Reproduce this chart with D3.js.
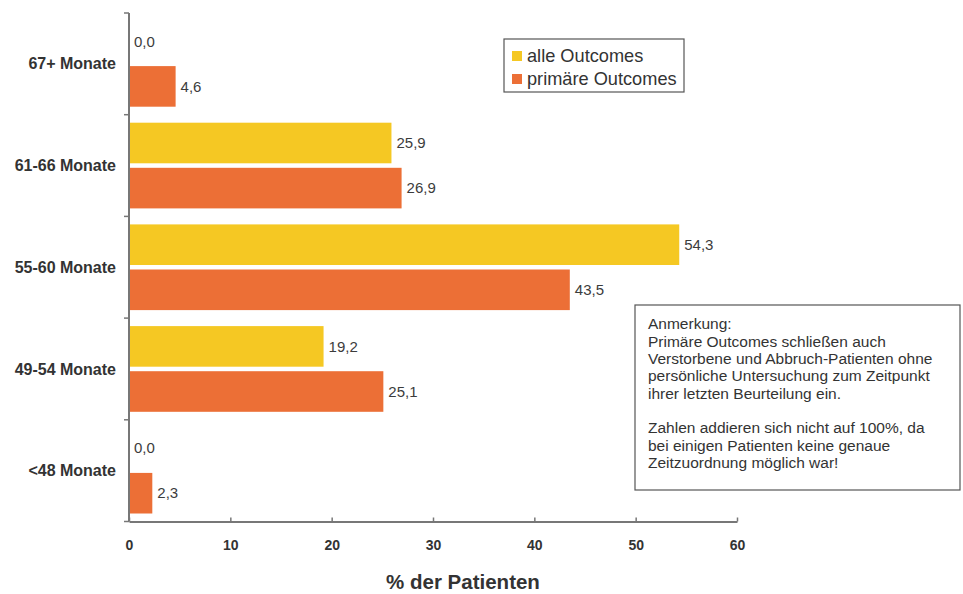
<!DOCTYPE html>
<html>
<head>
<meta charset="utf-8">
<script src="https://cdn.jsdelivr.net/npm/d3@7"></script>
<style>
  html, body { margin: 0; padding: 0; background: #fff; }
  svg { display: block; font-family: "Liberation Sans", Arial, sans-serif; }
</style>
</head>
<body>
<svg id="chart" width="963" height="594"></svg>
<script>
// Categories, top to bottom
const categories = ["67+ Monate", "61-66 Monate", "55-60 Monate", "49-54 Monate", "<48 Monate"];
// Series values (% der Patienten)
const alleOutcomes = [0.0, 25.9, 54.3, 19.2, 0.0];
const primaereOutcomes = [4.6, 26.9, 43.5, 25.1, 2.3];
const seriesNames = ["alle Outcomes", "primäre Outcomes"];
const seriesColors = ["#F5C823", "#EC6F36"];
const xTicks = [0, 10, 20, 30, 40, 50, 60];
const noteLines = [
  "Anmerkung:",
  "Primäre Outcomes schließen auch",
  "Verstorbene und Abbruch-Patienten ohne",
  "persönliche Untersuchung zum Zeitpunkt",
  "ihrer letzten Beurteilung ein.",
  "",
  "Zahlen addieren sich nicht auf 100%, da",
  "bei einigen Patienten keine genaue",
  "Zeitzuordnung möglich war!"
];

const svg = d3.select("#chart");
const plot = { left: 129, right: 737, top: 13, bottom: 521.5 };

const x = d3.scaleLinear().domain([0, 60]).range([plot.left, plot.right]);
const y = d3.scaleBand().domain(categories).range([plot.top, plot.bottom]).paddingInner(0).paddingOuter(0);
const ySub = d3.scaleBand().domain(seriesNames).range([8, y.bandwidth() - 8]).paddingInner(0.1);

const rows = categories.map((c, i) => ({
  cat: c,
  vals: [alleOutcomes[i], primaereOutcomes[i]]
}));

const fmt = v => d3.format(".1f")(v).replace(".", ",");

// Bars
const groups = svg.append("g").selectAll("g").data(rows).join("g")
  .attr("transform", d => `translate(0,${y(d.cat)})`);

groups.selectAll("rect")
  .data(d => d.vals.map((v, k) => ({ v, k })).filter(e => e.v > 0))
  .join("rect")
  .attr("x", x(0))
  .attr("y", d => ySub(seriesNames[d.k]))
  .attr("width", d => x(d.v) - x(0))
  .attr("height", ySub.bandwidth())
  .attr("fill", d => seriesColors[d.k]);

groups.selectAll("text")
  .data(d => d.vals.map((v, k) => ({ v, k })))
  .join("text")
  .attr("x", d => x(d.v) + 5)
  .attr("y", d => ySub(seriesNames[d.k]) + ySub.bandwidth() / 2)
  .attr("dy", "0.35em")
  .attr("font-size", 15)
  .attr("fill", "#3c3c3c")
  .text(d => fmt(d.v));

// X axis
const xAxis = svg.append("g")
  .attr("transform", `translate(0,${plot.bottom})`)
  .call(d3.axisBottom(x).tickValues(xTicks).tickSize(5).tickSizeOuter(0).tickPadding(14));
xAxis.select(".domain").attr("stroke", "#777").attr("stroke-width", 2);
xAxis.selectAll(".tick line").attr("stroke", "#777").attr("stroke-width", 1.5).attr("y1", -4).attr("y2", 0);
xAxis.selectAll(".tick text")
  .attr("font-family", "Liberation Sans, Arial, sans-serif")
  .attr("font-size", 14).attr("font-weight", "bold").attr("fill", "#333");

// Y axis line and boundary ticks
const yAxis = svg.append("g");
yAxis.append("line")
  .attr("x1", plot.left).attr("x2", plot.left).attr("y1", plot.top).attr("y2", plot.bottom)
  .attr("stroke", "#777").attr("stroke-width", 2);
const bounds = categories.map(c => y(c)).concat([plot.bottom]);
yAxis.selectAll("line.tk").data(bounds).join("line")
  .attr("class", "tk")
  .attr("x1", plot.left - 5).attr("x2", plot.left)
  .attr("y1", d => d).attr("y2", d => d)
  .attr("stroke", "#777").attr("stroke-width", 1.5);
yAxis.selectAll("text").data(categories).join("text")
  .attr("x", 116)
  .attr("y", d => y(d) + y.bandwidth() / 2)
  .attr("dy", "0.35em")
  .attr("text-anchor", "end")
  .attr("font-size", 16).attr("font-weight", "bold").attr("fill", "#333")
  .text(d => d);

// Axis title
svg.append("text")
  .attr("x", 463).attr("y", 589)
  .attr("text-anchor", "middle")
  .attr("font-size", 20.5).attr("font-weight", "bold").attr("fill", "#333")
  .text("% der Patienten");

// Legend
const legend = svg.append("g").attr("transform", "translate(504,39)");
legend.append("rect").attr("width", 180).attr("height", 53)
  .attr("fill", "#fff").attr("stroke", "#555").attr("stroke-width", 1.2);
seriesNames.forEach((s, i) => {
  legend.append("rect").attr("x", 8).attr("y", 12 + i * 23).attr("width", 10).attr("height", 10)
    .attr("fill", seriesColors[i]);
  legend.append("text").attr("x", 23).attr("y", 17 + i * 23).attr("dy", "0.35em")
    .attr("font-size", 18.2).attr("fill", "#333").text(s);
});

// Note box
const note = svg.append("g").attr("transform", "translate(635,305)");
note.append("rect").attr("width", 325).attr("height", 185)
  .attr("fill", "#fff").attr("stroke", "#555").attr("stroke-width", 1.2);
note.selectAll("text").data(noteLines).join("text")
  .attr("x", 13)
  .attr("y", (d, i) => 19 + i * 17.3)
  .attr("dy", "0.35em")
  .attr("font-size", 15.5).attr("fill", "#333")
  .text(d => d);
</script>
</body>
</html>
